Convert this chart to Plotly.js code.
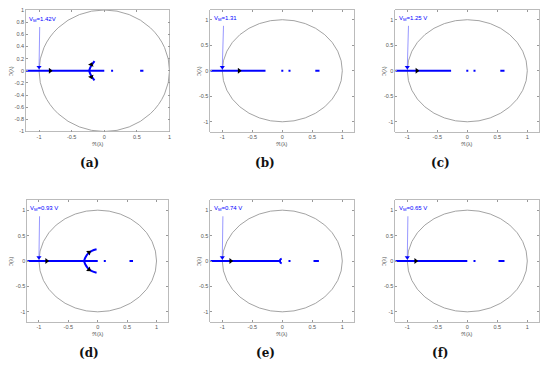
<!DOCTYPE html>
<html><head><meta charset="utf-8">
<script src="https://cdn.plot.ly/plotly-3.0.1.min.js"></script>
<style>html,body{margin:0;padding:0;background:#fff}#c{width:550px;height:368px}</style>
</head><body><div id="c"></div>
<script>
// ---- data ----
const panelLetters = ['(a)','(b)','(c)','(d)','(e)','(f)'];
const vmLabels = ['V<sub>M</sub>=1.42V','V<sub>M</sub>=1.31','V<sub>M</sub>=1.25 V','V<sub>M</sub>=0.93 V','V<sub>M</sub>=0.74 V','V<sub>M</sub>=0.65 V'];
const xTitle = 'ℜ(λ)';
const yTitle = 'ℑ(λ)';
const branchStart = [-1.2,-1.2,-1.2,-1.2,-1.2,-1.2];
const branchEnd = [0,-0.28,-0.27,0,-0.03,0];
const arcX = [[-0.15,-0.19,-0.215,-0.23,-0.215,-0.19,-0.15], [], [], [-0.02,-0.1,-0.17,-0.21,-0.23,-0.21,-0.17,-0.1,-0.02], [-0.01,-0.03,-0.04,-0.03,-0.01], []];
const arcY = [[0.16,0.1,0.05,0,-0.05,-0.1,-0.16], [], [], [0.23,0.2,0.14,0.07,0,-0.07,-0.14,-0.2,-0.23], [0.045,0.03,0,-0.03,-0.045], []];
const dotX = [[0.12],[0,0.12],[0,0.12],[0.12],[0.12],[0.12]];
const segX = [[0.55,0.6],[0.55,0.62],[0.55,0.62],[0.54,0.6],[0.52,0.61],[0.52,0.62]];
const axisArrowX = [-0.83,-0.72,-0.84,-0.87,-0.86,-0.86];
const arcArrowX = [[-0.2,-0.2],[],[],[-0.15,-0.15],[],[]];
const arcArrowY = [[0.1,-0.1],[],[],[0.17,-0.17],[],[]];
const arcArrowAngle = [[20,160],[],[],[50,130],[],[]];
const labelX = [-1.18,-1.18,-1.18,-1.18,-1.18,-1.18];
const labelY = [0.76,0.92,0.92,0.92,0.92,0.92];
const arrowTailX = [-0.99,-0.98,-0.98,-0.99,-0.99,-0.99];
const arrowTailY = [0.72,0.88,0.88,0.88,0.88,0.88];
const arrowHeadX = [-1,-1,-1,-1,-1,-1];
const arrowHeadY = [0.06,0.07,0.07,0.07,0.07,0.07];
const xRanges = [[-1.2,1],[-1.2,1.2],[-1.2,1.2],[-1.2,1.2],[-1.2,1.2],[-1.2,1.2]];
const yRanges = [[-1,1],[-1.2,1.2],[-1.2,1.2],[-1.2,1.2],[-1.2,1.2],[-1.2,1.2]];
const xTickVals = [-1,-0.5,0,0.5,1];
const xTickText = ['-1','-0.5','0','0.5','1'];
const yTickValsA = [-1,-0.8,-0.6,-0.4,-0.2,0,0.2,0.4,0.6,0.8,1];
const yTickTextA = ['-1','-0.8','-0.6','-0.4','-0.2','0','0.2','0.4','0.6','0.8','1'];
const yTickVals = [-1,-0.5,0,0.5,1];
const yTickText = ['-1','-0.5','0','0.5','1'];

// ---- layout geometry (pixels) ----
const W=550,H=368;
const boxes = [
  [26,169.5,10,131.5],[210.3,354.3,9.5,132],[395.3,539.3,9.5,132],
  [27.2,168.3,200,322],[210.3,354.3,200,322],[395.3,539.3,200,322]
];
const yTitleX = [11,199,384,11,199,384];
const captionPos = [[89,163],[265,163],[440,163],[89,353],[265,353],[440,353]];

const BLUE='#0000ff';
const FONT='Liberation Sans, Arial, sans-serif';
const traces=[]; const layout={width:W,height:H,margin:{l:0,r:0,t:0,b:0},showlegend:false,
  paper_bgcolor:'#fff',plot_bgcolor:'#fff',annotations:[],shapes:[],
  font:{family:FONT,color:'#555',size:6}};

for(let i=0;i<6;i++){
  const n=i+1, xa='x'+(n===1?'':n), ya='y'+(n===1?'':n);
  const xk='xaxis'+(n===1?'':n), yk='yaxis'+(n===1?'':n);
  const b=boxes[i];
  layout[xk]={domain:[b[0]/W,b[1]/W],range:xRanges[i],anchor:ya,tickvals:xTickVals,ticktext:xTickText,
    ticks:'inside',ticklen:2,tickcolor:'#999',showline:true,linecolor:'#aaa',linewidth:0.8,mirror:'ticks',
    showgrid:false,zeroline:false,tickfont:{size:5.5,color:'#555'}};
  layout[yk]={domain:[1-b[3]/H,1-b[2]/H],range:yRanges[i],anchor:xa,
    tickvals:i===0?yTickValsA:yTickVals,ticktext:i===0?yTickTextA:yTickText,
    ticks:'inside',ticklen:2,tickcolor:'#999',showline:true,linecolor:'#aaa',linewidth:0.8,mirror:'ticks',
    showgrid:false,zeroline:false,tickfont:{size:5.5,color:'#555'}};
  // axis titles
  layout.annotations.push({xref:'paper',yref:'paper',x:(b[0]+b[1])/2/W,y:1-(b[3]+12)/H,text:xTitle,showarrow:false,
    xanchor:'center',yanchor:'middle',font:{size:5.5,color:'#555',family:FONT}});
  layout.annotations.push({xref:'paper',yref:'paper',x:yTitleX[i]/W,y:1-(b[2]+b[3])/2/H,text:yTitle,showarrow:false,
    textangle:-90,xanchor:'center',yanchor:'middle',font:{size:5.5,color:'#555',family:FONT}});
  // unit circle
  layout.shapes.push({type:'circle',xref:xa,yref:ya,x0:-1,x1:1,y0:-1,y1:1,line:{color:'#999',width:0.9},layer:'below'});
  // V_M pointer line + head
  traces.push({x:[arrowTailX[i],arrowHeadX[i]],y:[arrowTailY[i],arrowHeadY[i]],xaxis:xa,yaxis:ya,mode:'lines',
    line:{color:'#6a6aff',width:0.7},hoverinfo:'skip'});
  traces.push({x:[arrowHeadX[i]],y:[arrowHeadY[i]],xaxis:xa,yaxis:ya,mode:'markers',
    marker:{color:BLUE,size:4.5,symbol:'triangle-down'},hoverinfo:'skip'});
  // real-axis branch
  traces.push({x:[branchStart[i],branchEnd[i]],y:[0,0],xaxis:xa,yaxis:ya,mode:'lines',line:{color:BLUE,width:2.2},hoverinfo:'skip'});
  if(arcX[i].length) traces.push({x:arcX[i],y:arcY[i],xaxis:xa,yaxis:ya,mode:'lines',line:{color:BLUE,width:2,shape:'spline'},hoverinfo:'skip'});
  traces.push({x:dotX[i],y:dotX[i].map(()=>0),xaxis:xa,yaxis:ya,mode:'markers',marker:{color:BLUE,size:2,symbol:'square'},hoverinfo:'skip'});
  traces.push({x:segX[i],y:[0,0],xaxis:xa,yaxis:ya,mode:'lines',line:{color:BLUE,width:2.2},hoverinfo:'skip'});
  traces.push({x:[axisArrowX[i]],y:[0],xaxis:xa,yaxis:ya,mode:'markers',marker:{color:'#000',size:5,symbol:'triangle-right'},hoverinfo:'skip'});
  if(arcArrowX[i].length) traces.push({x:arcArrowX[i],y:arcArrowY[i],xaxis:xa,yaxis:ya,mode:'markers',
    marker:{color:'#000',size:5,symbol:'triangle-up',angle:arcArrowAngle[i]},hoverinfo:'skip'});
  // V_M label
  layout.annotations.push({xref:xa,yref:ya,x:labelX[i],y:labelY[i],text:vmLabels[i],showarrow:false,
    xanchor:'left',yanchor:'bottom',font:{size:6,color:BLUE,family:FONT}});
  // caption
  layout.annotations.push({xref:'paper',yref:'paper',x:captionPos[i][0]/W,y:1-captionPos[i][1]/H,text:panelLetters[i],
    showarrow:false,xanchor:'center',yanchor:'middle',font:{size:12,color:'#111',weight:'bold',family:'DejaVu Serif, Liberation Serif, serif'}});
}
Plotly.newPlot('c',traces,layout,{staticPlot:true,displayModeBar:false});
</script></body></html>
